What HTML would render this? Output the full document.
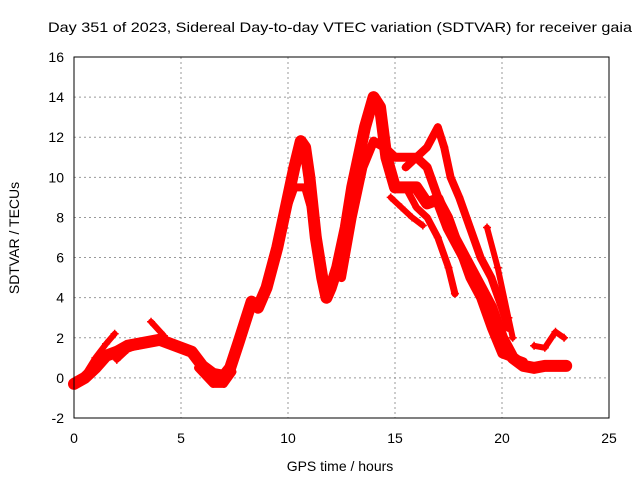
<!DOCTYPE html>
<html><head><meta charset="utf-8"><style>
body{margin:0;background:#fff}
svg{font-family:"Liberation Sans",sans-serif;font-size:14px}
</style></head><body>
<svg id="chart" width="640" height="480">
<rect width="640" height="480" fill="#fff"/>
<text x="340" y="32" text-anchor="middle" textLength="584" lengthAdjust="spacingAndGlyphs">Day 351 of 2023, Sidereal Day-to-day VTEC variation (SDTVAR) for receiver gaia</text>
<g id="grid"></g>
<g id="marks"></g>
<rect x="74" y="57" width="535" height="361" fill="none" stroke="#000" stroke-width="1"/>
<g id="ticks"></g>
<text x="340" y="471" text-anchor="middle">GPS time / hours</text>
<text transform="translate(19,238) rotate(-90)" text-anchor="middle">SDTVAR / TECUs</text>
</svg>
<script>
const xTicks=[0,5,10,15,20,25];
const yTicks=[-2,0,2,4,6,8,10,12,14,16];
const trackMain=[[0,-0.3],[0.5,0],[1,0.5],[1.5,1.1],[2,1.3],[2.5,1.6],[3,1.7],[3.5,1.8],[4,1.9],[4.5,1.7],[5,1.5],[5.5,1.3],[6,0.6],[6.5,0.2],[7,0.1],[7.3,0.5],[7.7,1.8],[8,2.8],[8.3,3.8],[8.6,3.5],[9,4.5],[9.5,6.5],[10,9],[10.3,10.5],[10.6,11.8],[10.8,11.5],[11,10],[11.3,7],[11.6,5],[11.8,4],[12,4.5],[12.3,5.5],[12.7,7.5],[13,9.5],[13.3,11],[13.6,12.5],[14,14],[14.3,13.5],[14.6,11],[15,9.5],[15.5,9.5],[16,9.5],[16.5,8.7],[17,8.9],[17.5,7.5],[18,6.5],[18.5,5.5],[19,4.5],[19.5,3.5],[20,2.0],[20.5,1.0],[21,0.6],[21.5,0.5],[22,0.6],[22.5,0.6],[23,0.6]];
const trackB=[[0.3,-0.2],[1,1],[1.5,1.7],[1.9,2.2]];
const trackC=[[2,0.9],[2.5,1.4],[3,1.6]];
const trackD=[[3.6,2.8],[4.2,2.1]];
const trackE=[[5.8,0.5],[6.5,-0.3],[7,-0.3],[7.4,0.3]];
const trackF=[[12.5,5],[13,8],[13.5,10.5],[14,11.8],[14.5,11.5],[15,11],[15.5,11],[16,11],[16.5,10.5],[17,9],[17.5,8],[18,6.5],[18.5,5],[19,4],[19.5,2.5],[20,1.2],[21,0.8]];
const trackG=[[15.5,10.5],[16,11],[16.5,11.5],[17,12.5],[17.3,11.5],[17.6,10],[18,9],[18.5,7.5],[19,6],[19.5,5],[20,3.5],[20.3,2.5]];
const trackH=[[15.5,9.5],[16,8.5],[16.5,8],[17,7],[17.5,5.5],[17.8,4.2]];
const trackI=[[14.8,9],[15.3,8.5],[15.8,8],[16.3,7.6]];
const trackJ=[[19.3,7.5],[19.8,5.5],[20.3,3],[20.5,2]];
const trackK=[[21.5,1.6],[22,1.5],[22.5,2.3],[22.9,2.0]];
const trackL=[[9.8,8],[10.3,9.5],[10.8,9.5],[11.2,8],[11.5,6]];
const tracks=[trackMain,trackB,trackC,trackD,trackE,trackF,trackG,trackH,trackI,trackJ,trackK,trackL];
const widths=[12,6,6,6,8,9,8,7,6,6,6,8];
const X=h=>74+535*h/25, Y=v=>418-361*(v+2)/18;
const NS='http://www.w3.org/2000/svg';
const grid=document.getElementById('grid'),ticks=document.getElementById('ticks'),marks=document.getElementById('marks');
xTicks.forEach(t=>{
  if(t>0&&t<25){const l=document.createElementNS(NS,'line');l.setAttribute('x1',X(t));l.setAttribute('x2',X(t));l.setAttribute('y1',57);l.setAttribute('y2',418);l.setAttribute('stroke','#999');l.setAttribute('stroke-dasharray','2,3');
  
  grid.appendChild(l);}
  const tx=document.createElementNS(NS,'text');tx.setAttribute('x',X(t));tx.setAttribute('y',443);tx.setAttribute('text-anchor','middle');tx.textContent=t;
  
  ticks.appendChild(tx);
});
yTicks.forEach(t=>{
  if(t>-2&&t<16){const l=document.createElementNS(NS,'line');l.setAttribute('x1',74);l.setAttribute('x2',609);l.setAttribute('y1',Y(t));l.setAttribute('y2',Y(t));l.setAttribute('stroke','#999');l.setAttribute('stroke-dasharray','2,3');
  
  grid.appendChild(l);}
  const tx=document.createElementNS(NS,'text');tx.setAttribute('x',64);tx.setAttribute('y',Y(t)+5);tx.setAttribute('text-anchor','end');tx.textContent=t;
  
  ticks.appendChild(tx);
});
tracks.forEach((tr,i)=>{
  const p=document.createElementNS(NS,'path');
  p.setAttribute('d',tr.map((d,j)=>(j?'L':'M')+X(d[0]).toFixed(1)+','+Y(d[1]).toFixed(1)).join(''));
  p.setAttribute('fill','none');p.setAttribute('stroke','#f00');p.setAttribute('stroke-width',widths[i]);p.setAttribute('stroke-linejoin','round');p.setAttribute('stroke-linecap','round');
  
  
  marks.appendChild(p);
  tr.forEach(d=>{
    const m=document.createElementNS(NS,'path');const x=X(d[0]),y=Y(d[1]);
    m.setAttribute('d',`M${x-4},${y}h8M${x},${y-4}v8`);m.setAttribute('stroke','#f00');m.setAttribute('stroke-width',1.5);
    
    
    marks.appendChild(m);
  });
});
</script>
</body></html>
